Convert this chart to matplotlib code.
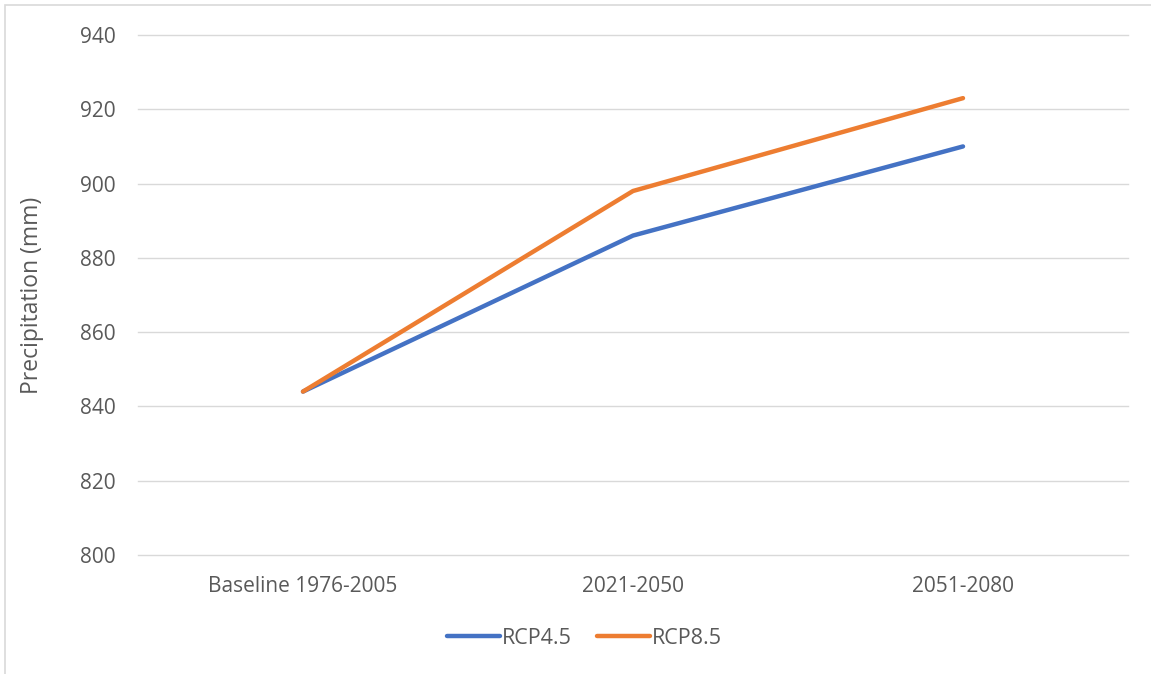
import matplotlib.pyplot as plt
from matplotlib.patches import Rectangle

periods = ['Baseline 1976-2005', '2021-2050', '2051-2080']
rcp45 = [844, 886, 910]
rcp85 = [844, 898, 923]

plt.rcParams['font.family'] = ['Open Sans', 'DejaVu Sans']
text_color = '#595959'

fig = plt.figure(figsize=(11.51, 6.74), dpi=100)
ax = fig.add_axes([138 / 1151, 1 - 555 / 674, 990 / 1151, 520 / 674])

# chart frame (light gray border)
fig.patches.append(Rectangle((5 / 1151, -0.1), 1.2, (1 - 5 / 674) + 0.1,
                             transform=fig.transFigure, fill=False,
                             edgecolor='#d9d9d9', linewidth=1.2))

x = range(len(periods))
ax.plot(x, rcp45, color='#4472C4', linewidth=3.2, label='RCP4.5',
        solid_capstyle='round', solid_joinstyle='round')
ax.plot(x, rcp85, color='#ED7D31', linewidth=3.2, label='RCP8.5',
        solid_capstyle='round', solid_joinstyle='round')

ax.set_xlim(-0.5, 2.5)
ax.set_ylim(800, 940)
ax.set_yticks(range(800, 941, 20))
ax.set_xticks(list(x))
ax.set_xticklabels(periods)
ax.grid(axis='y', color='#d9d9d9', linewidth=1)
for g in ax.get_ygridlines():
    g.set_clip_on(False)
ax.set_axisbelow(True)
for s in ax.spines.values():
    s.set_visible(False)
ax.tick_params(length=0, labelsize=15, colors=text_color)
ax.tick_params(axis='y', pad=16)
ax.tick_params(axis='x', pad=15)
ax.set_ylabel('Precipitation (mm)', fontsize=16.5, color=text_color, labelpad=26)

ax.legend(loc='center', bbox_to_anchor=(0.451, -0.16), ncol=2,
          frameon=False, fontsize=15.5, labelcolor=text_color,
          handlelength=2.45, handletextpad=0.1, columnspacing=1.15)

fig.savefig('out.png', dpi=100)
